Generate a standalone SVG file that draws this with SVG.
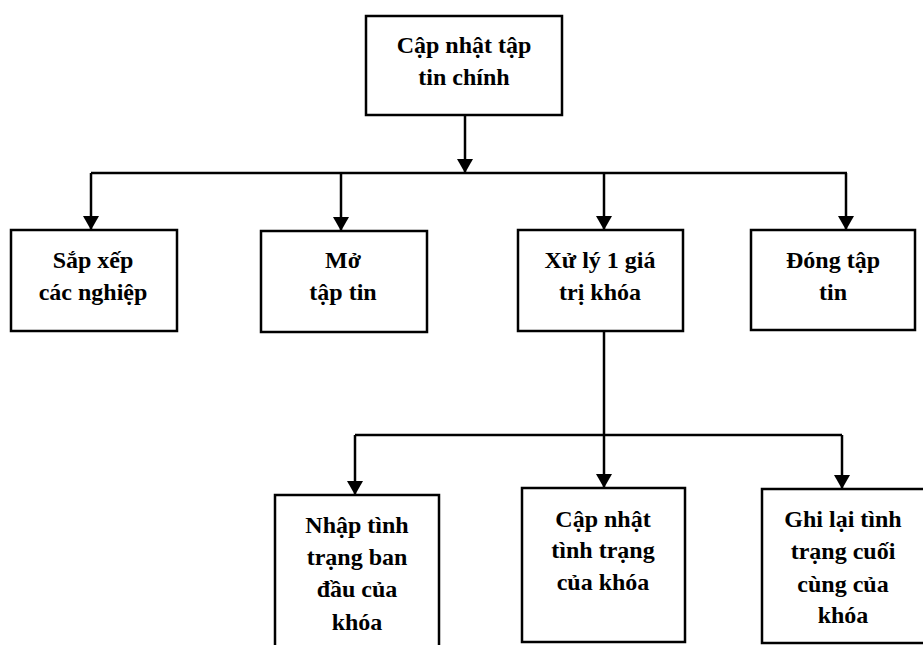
<svg xmlns="http://www.w3.org/2000/svg" width="923" height="645" viewBox="0 0 923 645">
  <style>
    .box { fill: #fff; stroke: #000; stroke-width: 2.5; }
    .lbl { font-family: "Liberation Serif", "Times New Roman", serif; font-weight: bold; font-size: 24px; fill: #000; text-anchor: middle; }
    .wire { fill: none; stroke: #000; stroke-width: 2.5; }
  </style>
  <defs>
    <!-- filled arrowhead pointing along the line direction -->
    <marker id="arrow" viewBox="0 0 14 16" refX="14" refY="8" markerWidth="14" markerHeight="16" markerUnits="userSpaceOnUse" orient="auto">
      <path d="M0,0 L14,8 L0,16 Z" fill="#000"/>
    </marker>
  </defs>
  <rect width="923" height="645" fill="#fff"/>

  <g id="connectors">
    <!-- root to first level -->
    <path class="wire" d="M465,115 V173" marker-end="url(#arrow)"/>
    <path class="wire" d="M91,173 H847"/>
    <path class="wire" d="M91,173 V230" marker-end="url(#arrow)"/>
    <path class="wire" d="M341,173 V231" marker-end="url(#arrow)"/>
    <path class="wire" d="M604,173 V230" marker-end="url(#arrow)"/>
    <path class="wire" d="M846,173 V230" marker-end="url(#arrow)"/>
    <!-- "Xử lý 1 giá trị khóa" to its children -->
    <path class="wire" d="M604,331 V488" marker-end="url(#arrow)"/>
    <path class="wire" d="M355,435 H842"/>
    <path class="wire" d="M355,435 V495" marker-end="url(#arrow)"/>
    <path class="wire" d="M842,435 V489" marker-end="url(#arrow)"/>
  </g>

  <g id="root">
    <rect class="box" x="366" y="16" width="196" height="99"/>
    <text class="lbl" x="464" y="53">Cập nhật tập</text>
    <text class="lbl" x="464" y="85">tin chính</text>
  </g>

  <g id="sort">
    <rect class="box" x="11" y="230" width="166" height="101"/>
    <text class="lbl" x="93" y="268">Sắp xếp</text>
    <text class="lbl" x="93" y="300">các nghiệp</text>
  </g>

  <g id="open">
    <rect class="box" x="261" y="231" width="166" height="101"/>
    <text class="lbl" x="343" y="268">Mở</text>
    <text class="lbl" x="343" y="300">tập tin</text>
  </g>

  <g id="process">
    <rect class="box" x="518" y="230" width="165" height="101"/>
    <text class="lbl" x="600" y="268">Xử lý 1 giá</text>
    <text class="lbl" x="600" y="300">trị khóa</text>
  </g>

  <g id="close">
    <rect class="box" x="751" y="230" width="164" height="100"/>
    <text class="lbl" x="833" y="268">Đóng tập</text>
    <text class="lbl" x="833" y="300">tin</text>
  </g>

  <g id="input-state">
    <rect class="box" x="275" y="495" width="164" height="160"/>
    <text class="lbl" x="357" y="533">Nhập tình</text>
    <text class="lbl" x="357" y="565">trạng ban</text>
    <text class="lbl" x="357" y="597">đầu của</text>
    <text class="lbl" x="357" y="630">khóa</text>
  </g>

  <g id="update-state">
    <rect class="box" x="522" y="488" width="163" height="154"/>
    <text class="lbl" x="603" y="527">Cập nhật</text>
    <text class="lbl" x="603" y="558">tình trạng</text>
    <text class="lbl" x="603" y="590">của khóa</text>
  </g>

  <g id="record-state">
    <rect class="box" x="762" y="489" width="180" height="154"/>
    <text class="lbl" x="843" y="527">Ghi lại tình</text>
    <text class="lbl" x="843" y="559">trạng cuối</text>
    <text class="lbl" x="843" y="592">cùng của</text>
    <text class="lbl" x="843" y="623">khóa</text>
  </g>
</svg>
